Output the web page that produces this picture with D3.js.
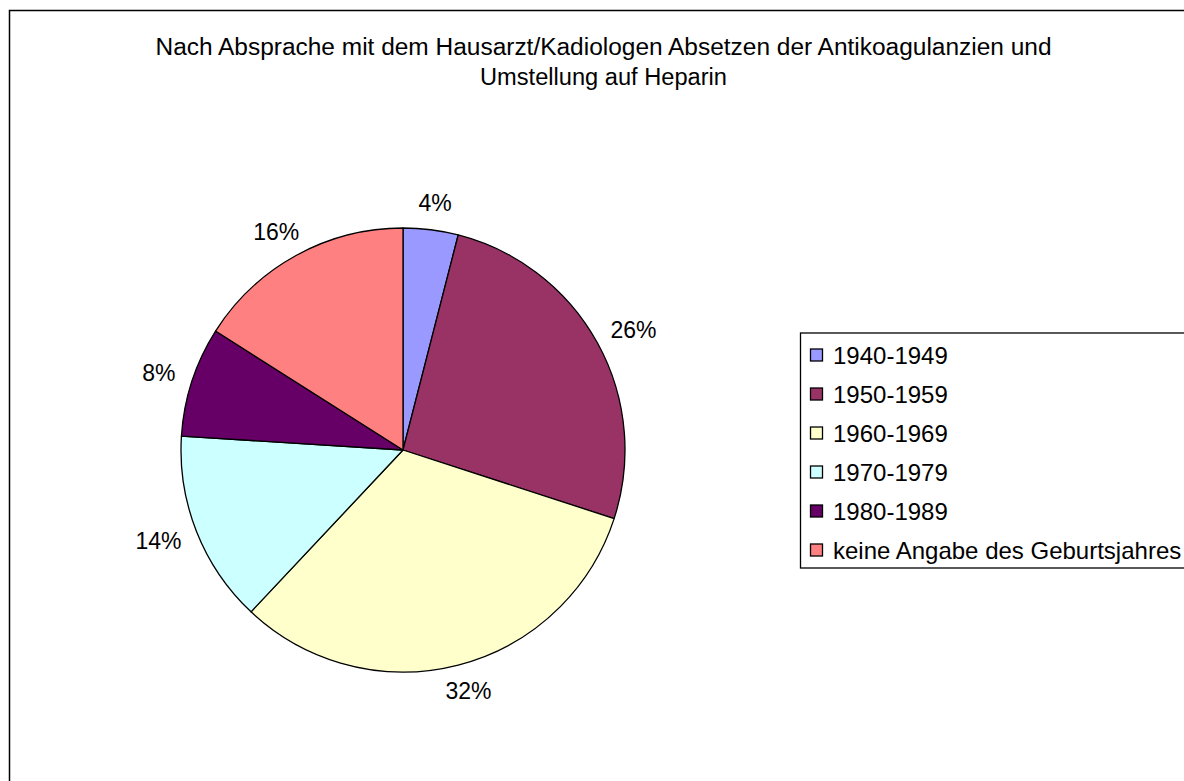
<!DOCTYPE html>
<html><head><meta charset="utf-8">
<script src="https://cdn.jsdelivr.net/npm/d3@7"></script>
<style>body{margin:0;background:#fff}svg{display:block}text{font-family:"Liberation Sans",Arial,sans-serif;fill:#000}</style>
</head><body>
<script>
const titleLines = ["Nach Absprache mit dem Hausarzt/Kadiologen Absetzen der Antikoagulanzien und", "Umstellung auf Heparin"];
const categories = ["1940-1949", "1950-1959", "1960-1969", "1970-1979", "1980-1989", "keine Angabe des Geburtsjahres"];
const values = [2, 13, 16, 7, 4, 8];
const colors = ["#9999FF", "#993366", "#FFFFCC", "#CCFFFF", "#660066", "#FF8080"];

const W = 1184, H = 781;
const svg = d3.select("body").append("svg").attr("width", W).attr("height", H);
svg.append("rect").attr("x", 9.5).attr("y", 10.5).attr("width", W + 10).attr("height", H + 10)
  .attr("fill", "#fff").attr("stroke", "#000").attr("stroke-width", 1.5);

const fs = 24;
svg.append("g").selectAll("text").data(titleLines).join("text")
  .attr("x", 603.5).attr("y", (d, i) => 55 + i * 30).attr("text-anchor", "middle")
  .attr("textLength", (d, i) => i === 0 ? 896 : 247).attr("lengthAdjust", "spacingAndGlyphs")
  .style("font-size", "23px").text(d => d);

const cx = 403, cy = 450, R = 222;
const total = d3.sum(values);
const pie = d3.pie().sort(null).value(d => d)(values);
const arc = d3.arc().innerRadius(0).outerRadius(R);
const g = svg.append("g").attr("transform", `translate(${cx},${cy})`);
g.selectAll("path").data(pie).join("path").attr("d", arc)
  .attr("fill", (d, i) => colors[i]).attr("stroke", "#000").attr("stroke-width", 1.3).attr("stroke-linejoin", "round");

const fmt = d3.format(".0%");
const labels = g.selectAll("text.lbl").data(pie).join("text").attr("class", "lbl")
  .style("font-size", "23px").attr("text-anchor", "middle").attr("dominant-baseline", "central")
  .text(d => fmt(d.value / total));
labels.each(function(d) {
  const a = (d.startAngle + d.endAngle) / 2;
  const bb = this.getBBox();
  const s = Math.sin(a), c = Math.cos(a);
  const r0 = R + 18;
  const x = r0 * s + (bb.width / 2) * s;
  const y = -r0 * c - (17 / 2) * c;
  d3.select(this).attr("x", x).attr("y", y);
});

const lg = svg.append("g");
lg.append("rect").attr("x", 800.5).attr("y", 333).attr("width", 400).attr("height", 235)
  .attr("fill", "#fff").attr("stroke", "#000").attr("stroke-width", 1.3);
const items = lg.selectAll("g.it").data(categories).join("g").attr("class", "it")
  .attr("transform", (d, i) => `translate(0,${355 + i * 39})`);
items.append("rect").attr("x", 810.5).attr("y", -6).attr("width", 12).attr("height", 12)
  .attr("fill", (d, i) => colors[i]).attr("stroke", "#000").attr("stroke-width", 1.3);
items.append("text").attr("x", 833).attr("y", 0).attr("dominant-baseline", "central")
  .style("font-size", fs + "px").text(d => d);
</script>
</body></html>
